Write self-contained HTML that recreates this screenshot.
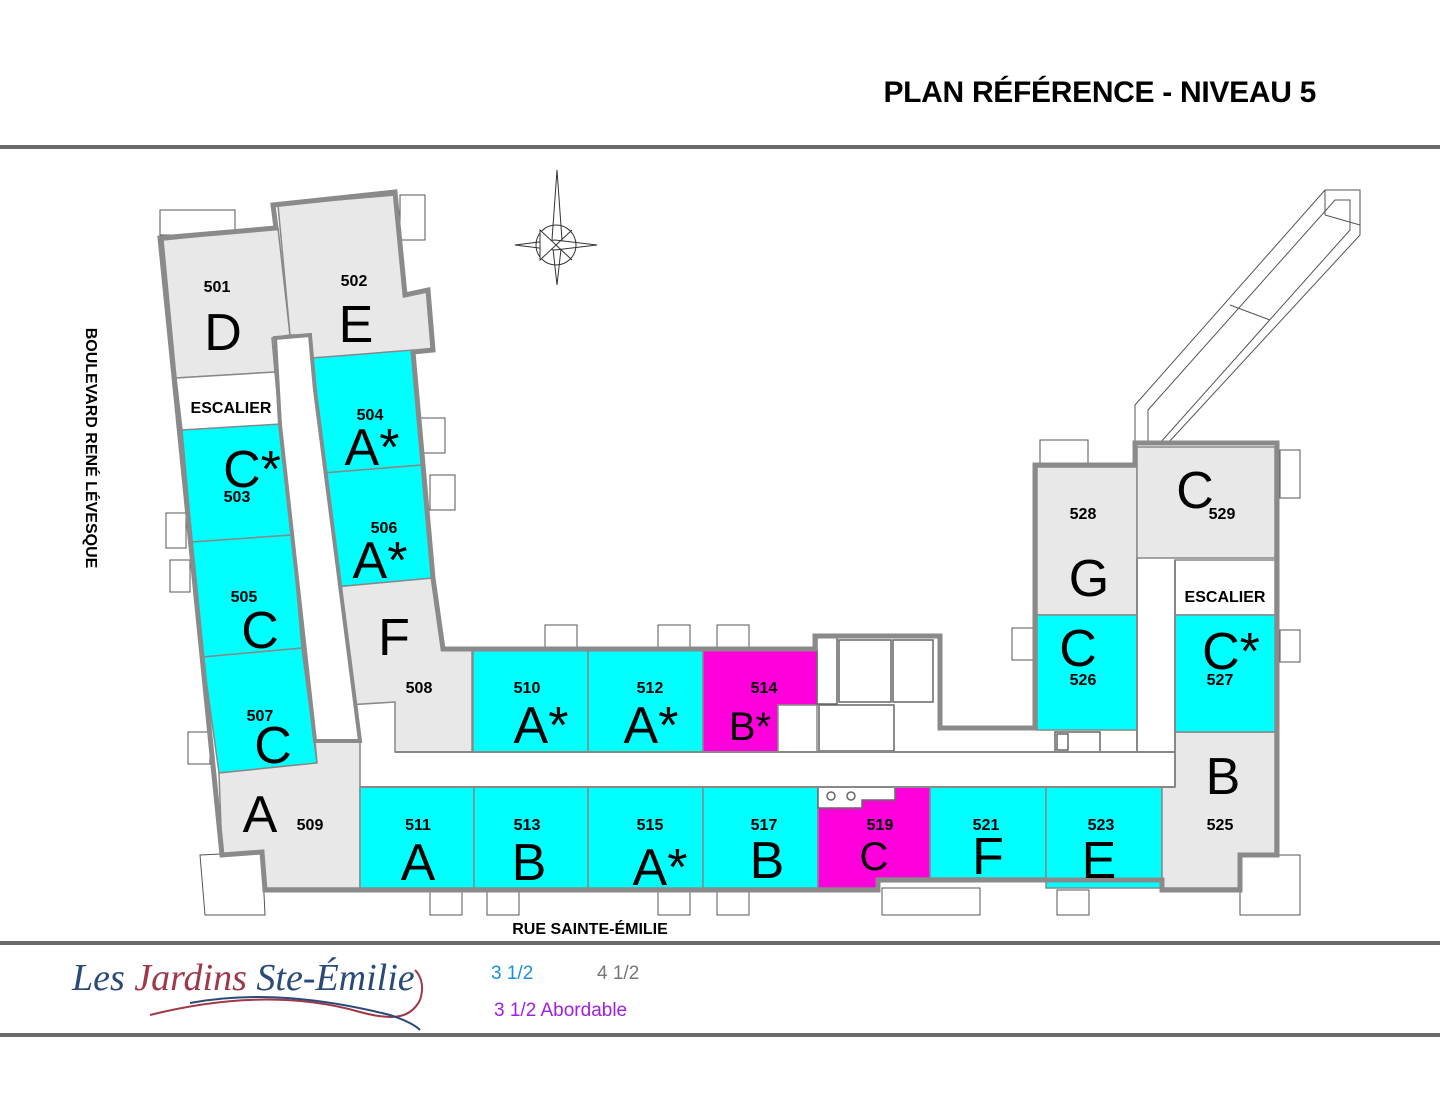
<!DOCTYPE html>
<html><head><meta charset="utf-8"><style>
html,body{margin:0;padding:0;background:#fff;}
svg{display:block;}
.n{font-family:"Liberation Sans",sans-serif;font-weight:bold;font-size:16px;fill:#000;text-anchor:middle;}
.L{font-family:"Liberation Sans",sans-serif;font-size:52px;fill:#000;text-anchor:middle;}
.r{stroke:#888;stroke-width:1.5;}
.w{fill:none;stroke:#8a8a8a;stroke-width:5;stroke-linejoin:miter;}
.g{fill:#e8e8e8;} .c{fill:#00ffff;} .m{fill:#ff00dd;}
.bx{fill:#fff;stroke:#555;stroke-width:1;}
</style></head><body>
<svg width="1440" height="1113" viewBox="0 0 1440 1113" xmlns="http://www.w3.org/2000/svg">
<text x="1316" y="102" text-anchor="end" font-family="Liberation Sans,sans-serif" font-weight="bold" font-size="30" letter-spacing="-0.3" fill="#000">PLAN RÉFÉRENCE - NIVEAU 5</text>
<rect x="0" y="145" width="1440" height="4" fill="#6a6a6a"/>
<rect x="0" y="941" width="1440" height="4" fill="#6a6a6a"/>
<rect x="0" y="1033" width="1440" height="4" fill="#6a6a6a"/>

<!-- balconies -->
<g class="bx">
<rect x="160" y="210" width="75" height="25"/><rect x="400" y="195" width="25" height="45"/>
<rect x="415" y="418" width="30" height="35"/><rect x="430" y="475" width="25" height="35"/>
<rect x="166" y="513" width="20" height="35"/><rect x="170" y="560" width="20" height="32"/>
<rect x="188" y="732" width="22" height="32"/>
<polygon points="200,855 262,852 265,915 205,915"/>
<rect x="430" y="890" width="32" height="25"/><rect x="487" y="890" width="32" height="25"/>
<rect x="658" y="890" width="32" height="25"/><rect x="717" y="890" width="32" height="25"/>
<rect x="882" y="888" width="98" height="27"/><rect x="1057" y="890" width="32" height="25"/>
<rect x="1240" y="855" width="60" height="60"/>
<rect x="545" y="625" width="32" height="25"/><rect x="658" y="625" width="32" height="25"/><rect x="717" y="625" width="32" height="25"/>
<rect x="1040" y="440" width="48" height="25"/><rect x="1280" y="450" width="20" height="48"/>
<rect x="1280" y="630" width="20" height="32"/><rect x="1012" y="628" width="22" height="32"/>
</g>
<!-- ramp -->
<g fill="none" stroke="#555" stroke-width="1">
<polyline points="1135,443 1135,405 1325,190 1360,190 1360,235 1168,443"/>
<polyline points="1148,443 1148,410 1335,200 1350,200 1350,230 1160,443"/>
<line x1="1325" y1="190" x2="1325" y2="215"/><line x1="1325" y1="215" x2="1360" y2="225"/>
<line x1="1230" y1="305" x2="1270" y2="320"/>
</g>
<!-- compass -->
<g fill="#fff" stroke="#333" stroke-width="1">
<polygon points="557,170 562,240 557,285 552,240"/>
<polygon points="515,245 555,240 597,245 555,250"/>
<circle cx="556" cy="245" r="20" fill="none"/>
<polygon points="540,230 556,245 572,230 556,245 572,260 556,245 540,260" />
</g>

<!-- rooms -->
<g class="r">
<polygon class="g" points="163,240 278,228 290,335 272,338 275,372 176,378"/>
<polygon class="g" points="278,205 395,195 405,295 428,290 433,350 312,358 310,335 290,335"/>
<polygon fill="#fff" points="176,378 275,372 280,425 182,430"/>
<polygon class="c" points="182,430 280,424 292,535 192,542"/>
<polygon class="c" points="192,542 292,535 302,648 203,657"/>
<polygon class="c" points="203,657 302,648 317,763 219,773"/>
<polygon class="c" points="312,358 413,350 422,465 323,473"/>
<polygon class="c" points="323,473 422,465 433,578 335,587"/>
<polygon class="g" points="335,587 433,578 443,650 472,650 472,752 395,752 395,702 347,705"/>
<polygon class="g" points="219,773 317,763 315,741 360,741 360,888 265,888 262,852 222,855"/>
<rect class="c" x="360" y="787" width="114" height="101"/>
<rect class="c" x="474" y="787" width="114" height="101"/>
<rect class="c" x="588" y="787" width="115" height="101"/>
<rect class="c" x="703" y="787" width="115" height="101"/>
<polygon class="m" points="818,808 862,808 862,800 895,800 895,787 930,787 930,878 878,878 878,888 818,888"/>
<rect class="c" x="930" y="787" width="116" height="91"/>
<rect class="c" x="1046" y="787" width="116" height="101"/>
<polygon class="g" points="1175,732 1275,732 1275,855 1240,855 1240,888 1162,888 1162,787 1175,787"/>
<rect class="c" x="473" y="650" width="115" height="102"/>
<rect class="c" x="588" y="650" width="115" height="102"/>
<polygon class="m" points="703,650 817,650 817,705 778,705 778,752 703,752"/>
<rect x="778" y="705" width="39" height="47" fill="#fff"/>
<rect class="g" x="1037" y="467" width="100" height="148"/>
<rect class="g" x="1137" y="447" width="138" height="111"/>
<rect fill="#fff" x="1175" y="560" width="100" height="55"/>
<rect class="c" x="1037" y="615" width="100" height="115"/>
<rect class="c" x="1175" y="615" width="100" height="117"/>
</g>
<!-- service area -->
<g fill="none" stroke="#666" stroke-width="1.5">
<rect x="817" y="636" width="20" height="68"/><rect x="839" y="640" width="52" height="62"/><rect x="893" y="640" width="40" height="62"/>
<rect x="819" y="705" width="75" height="46"/>
<rect x="1055" y="732" width="45" height="20"/><rect x="1057" y="734" width="11" height="16"/>
<polygon points="818,808 862,808 862,800 895,800 895,787 818,787" fill="#fff"/>
<circle cx="831" cy="796" r="4"/><circle cx="851" cy="796" r="4"/>
</g>
<!-- outer walls -->
<polyline class="w" points="230,232 160,238 222,855 262,852 265,890 878,890 878,880 1162,880 1162,890 1240,890 1240,855 1277,855 1277,443 1135,443 1135,465 1035,465 1035,728 940,728 940,636 815,636 815,649 443,649 433,578 413,352 433,350 428,290 405,295 395,192 273,205 276,228 230,232"/>
<g fill="#fff" stroke="#8a8a8a" stroke-width="4">
<polygon points="275,338 310,335 312,358 315,390 360,741 315,741 280,425"/>
</g>
<rect x="361" y="753" width="813" height="33" fill="#fff"/>
<rect x="1138" y="561" width="36" height="225" fill="#fff"/>
<line x1="360" y1="787" x2="1175" y2="787" stroke="#888" stroke-width="2"/>
<line x1="395" y1="752" x2="1175" y2="752" stroke="#888" stroke-width="2"/>
<line x1="1175" y1="560" x2="1175" y2="787" stroke="#888" stroke-width="2"/>
<line x1="1137" y1="558" x2="1137" y2="752" stroke="#888" stroke-width="2"/>

<!-- labels -->
<g class="n">
<text x="217" y="292">501</text><text x="354" y="286">502</text>
<text x="370" y="420">504</text><text x="237" y="502">503</text>
<text x="384" y="533">506</text><text x="244" y="602">505</text>
<text x="260" y="721">507</text><text x="419" y="693">508</text>
<text x="310" y="830">509</text><text x="527" y="693">510</text><text x="650" y="693">512</text><text x="764" y="693">514</text>
<text x="418" y="830">511</text><text x="527" y="830">513</text><text x="650" y="830">515</text><text x="764" y="830">517</text>
<text x="880" y="830">519</text><text x="986" y="830">521</text><text x="1101" y="830">523</text><text x="1220" y="830">525</text>
<text x="1083" y="519">528</text><text x="1222" y="519">529</text>
<text x="1083" y="685">526</text><text x="1220" y="685">527</text>
<text x="231" y="413">ESCALIER</text><text x="1225" y="602">ESCALIER</text>
<text x="590" y="934">RUE SAINTE-ÉMILIE</text>
</g>
<text class="n" transform="translate(86,448) rotate(90)" x="0" y="0">BOULEVARD RENÉ LÉVESQUE</text>
<g class="L">
<text x="223" y="350">D</text><text x="356" y="342">E</text>
<text x="372" y="465">A*</text><text x="252" y="487">C*</text>
<text x="380" y="578">A*</text><text x="260" y="648">C</text>
<text x="394" y="655">F</text><text x="273" y="763">C</text>
<text x="260" y="832">A</text><text x="541" y="743">A*</text><text x="651" y="743">A*</text>
<text x="750" y="740" font-size="40">B*</text>
<text x="418" y="880">A</text><text x="529" y="880">B</text><text x="660" y="885">A*</text><text x="767" y="878">B</text>
<text x="874" y="870" font-size="40">C</text><text x="988" y="874">F</text><text x="1099" y="878">E</text>
<text x="1223" y="794">B</text>
<text x="1195" y="508">C</text><text x="1089" y="596">G</text>
<text x="1078" y="666">C</text><text x="1231" y="669">C*</text>
</g>

<!-- logo & legend -->
<text x="72" y="990" font-family="Liberation Serif,serif" font-style="italic" font-size="38" fill="#2a4a78">Les <tspan fill="#a0384a">Jardins</tspan> Ste-Émilie</text>
<path d="M150,1015 C230,995 300,995 360,1012 C390,1020 410,1020 420,1000 C425,985 420,975 415,970" fill="none" stroke="#a0384a" stroke-width="2"/>
<path d="M190,1003 C260,990 330,1000 390,1015 C405,1020 415,1025 420,1030" fill="none" stroke="#2a4a78" stroke-width="2"/>
<g font-family="Liberation Sans,sans-serif" font-size="19">
<text x="491" y="979" fill="#1a8fe0">3 1/2</text>
<text x="597" y="979" fill="#777">4 1/2</text>
<text x="494" y="1016" fill="#a020e0">3 1/2 Abordable</text>
</g>
</svg>
</body></html>
